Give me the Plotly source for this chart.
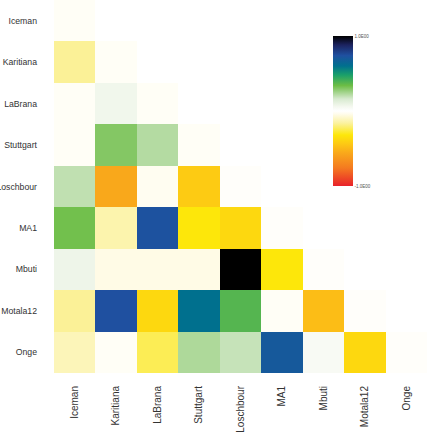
import plotly.graph_objects as go

names = ["Iceman", "Karitiana", "LaBrana", "Stuttgart", "Loschbour", "MA1", "Mbuti", "Motala12", "Onge"]

# lower-triangle values per row (row i has i+1 entries: columns 0..i)
row_Iceman = [-0.02]
row_Karitiana = [-0.17, -0.02]
row_LaBrana = [-0.02, 0.07, -0.02]
row_Stuttgart = [-0.02, 0.30, 0.22, -0.02]
row_Loschbour = [0.20, -0.56, -0.03, -0.43, -0.01]
row_MA1 = [0.33, -0.14, 0.73, -0.32, -0.38, -0.01]
row_Mbuti = [0.08, -0.05, -0.05, -0.05, 1.0, -0.32, -0.01]
row_Motala12 = [-0.17, 0.74, -0.38, 0.60, 0.38, -0.02, -0.48, -0.01]
row_Onge = [-0.12, -0.02, -0.24, 0.23, 0.19, 0.70, 0.04, -0.38, -0.01]

rows = [row_Iceman, row_Karitiana, row_LaBrana, row_Stuttgart, row_Loschbour,
        row_MA1, row_Mbuti, row_Motala12, row_Onge]
z = [r + [None] * (len(names) - len(r)) for r in rows]

cbar_ticks = [-1, 1]
cbar_labels = ["-1.0E00", "1.0E00"]

colorscale = [
    [0.0, "#e8222a"],
    [0.12, "#f47a20"],
    [0.22, "#f9a81b"],
    [0.28, "#fdc814"],
    [0.34, "#fde70a"],
    [0.42, "#fbf2a0"],
    [0.48, "#fffcec"],
    [0.5, "#ffffff"],
    [0.53, "#f4f8ef"],
    [0.58, "#d8ead0"],
    [0.67, "#6cbd45"],
    [0.74, "#1aa06a"],
    [0.8, "#00708e"],
    [0.87, "#1f50a0"],
    [0.94, "#1c2360"],
    [1.0, "#000000"],
]

fig = go.Figure(go.Heatmap(
    z=z, x=names, y=names, zmin=-1, zmax=1,
    colorscale=colorscale, hoverongaps=False, xgap=0, ygap=0,
    colorbar=dict(
        x=(333 - 54) / 373, xanchor="left", xref="paper",
        y=(373 - 36) / 373, yanchor="top", yref="paper",
        len=150, lenmode="pixels", thickness=20, outlinewidth=0,
        xpad=0, ypad=0,
        tickvals=cbar_ticks, ticktext=cbar_labels, ticks="",
        tickfont=dict(size=4.5, color="#555", family="Liberation Sans"),
    ),
))

fig.update_layout(
    width=430, height=434,
    margin=dict(l=54, r=3, t=0, b=61, autoexpand=False),
    plot_bgcolor="white", paper_bgcolor="white",
    font=dict(family="Liberation Sans", size=8.5, color="#333333"),
)
fig.update_xaxes(tickangle=-90, showgrid=False, zeroline=False, showline=False,
                 ticks="", ticklabelstandoff=10, automargin=False,
                 tickfont=dict(size=10, color="#333333"))
fig.update_yaxes(autorange="reversed", showgrid=False, zeroline=False, showline=False,
                 ticks="", ticklabelstandoff=16, automargin=False,
                 tickfont=dict(size=8.7, color="#333333"))

fig.write_html("out.html", config={"displayModeBar": False},
               post_script="document.body.style.margin='0';document.body.style.overflow='hidden';")
